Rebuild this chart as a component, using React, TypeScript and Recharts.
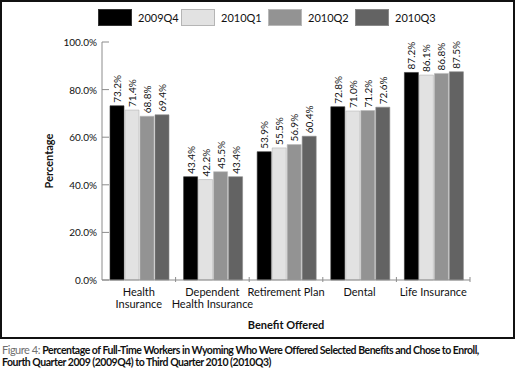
import React from "react";
import { BarChart, Bar, XAxis, YAxis, LabelList } from "recharts";

const categories = [
  "Health Insurance",
  "Dependent Health Insurance",
  "Retirement Plan",
  "Dental",
  "Life Insurance",
];
const categoryLines = [
  ["Health", "Insurance"],
  ["Dependent", "Health Insurance"],
  ["Retirement Plan"],
  ["Dental"],
  ["Life Insurance"],
];
const q2009Q4 = [73.2, 43.4, 53.9, 72.8, 87.2];
const q2010Q1 = [71.4, 42.2, 55.5, 71.0, 86.1];
const q2010Q2 = [68.8, 45.5, 56.9, 71.2, 86.8];
const q2010Q3 = [69.4, 43.4, 60.4, 72.6, 87.5];
const yTicks = [0, 20, 40, 60, 80, 100];

const series = [
  { key: "2009Q4", values: q2009Q4, fill: "#000000", stroke: "#333333" },
  { key: "2010Q1", values: q2010Q1, fill: "#e2e2e2", stroke: "#b5b5b5" },
  { key: "2010Q2", values: q2010Q2, fill: "#939393", stroke: "#b8b8b8" },
  { key: "2010Q3", values: q2010Q3, fill: "#636363", stroke: "#8a8a8a" },
];

const data = categories.map((name, i) => {
  const row: Record<string, any> = { name, idx: i };
  series.forEach((s) => (row[s.key] = s.values[i]));
  return row;
});

const FONT = "Lato, 'Open Sans', sans-serif";
const AXIS = "#8c8c8c";

const YTick = (props: any) => {
  const { x, y, payload } = props;
  return (
    <g>
      <line x1={x + 5} x2={x + 12} y1={y} y2={y} stroke={AXIS} strokeWidth={1} />
      <text x={x} y={y} textAnchor="end" dominantBaseline="central" fontSize={10} fill="#111" fontFamily={FONT}>
        {payload.value.toFixed(1)}%
      </text>
    </g>
  );
};

const XTick = (props: any) => {
  const { x, y, payload, index } = props;
  const half = payload.offset || 36.8;
  const lines = categoryLines[index] || [payload.value];
  return (
    <g>
      <line x1={x + half} x2={x + half} y1={y} y2={y - 5} stroke={AXIS} strokeWidth={1} />
      <text x={x} y={y + 14} textAnchor="middle" fontSize={11} fill="#111" fontFamily={FONT}>
        {lines.map((l: string, i: number) => (
          <tspan key={i} x={x} dy={i === 0 ? 0 : 12}>
            {l}
          </tspan>
        ))}
      </text>
    </g>
  );
};

const BarLabel = (props: any) => {
  const { x, y, width, value } = props;
  const cx = x + width / 2;
  const ty = y - 3;
  return (
    <text
      x={cx}
      y={ty}
      transform={`rotate(-90 ${cx} ${ty})`}
      textAnchor="start"
      dominantBaseline="central"
      fontSize={10}
      fill="#111"
      fontFamily={FONT}
    >
      {value.toFixed(1)}%
    </text>
  );
};

export default function App() {
  return (
    <div style={{ position: "relative", width: 516, height: 370, background: "#fff", fontFamily: FONT }}>
      <style>{"body{margin:0}"}</style>
      <div
        style={{
          position: "absolute",
          left: 0,
          top: 0,
          width: 515,
          height: 339,
          border: "2px solid #111",
          boxSizing: "border-box",
        }}
      />
      <div style={{ position: "absolute", left: 98, top: 9, display: "flex", fontSize: 11, color: "#111" }}>
        {series.map((s, i) => (
          <div key={s.key} style={{ display: "flex", alignItems: "center", width: i === 0 ? 83 : 87 }}>
            <div
              style={{
                width: 34,
                height: 17,
                background: s.fill,
                border: `1px solid ${s.stroke}`,
                boxSizing: "border-box",
                marginRight: 6,
              }}
            />
            <span>{s.key}</span>
          </div>
        ))}
      </div>
      <div style={{ position: "absolute", left: 0, top: 0 }}>
        <BarChart
          width={516}
          height={339}
          data={data}
          margin={{ top: 42, right: 46, bottom: 0, left: 0 }}
          barCategoryGap={8}
          barGap={1}
        >
          <XAxis
            dataKey="name"
            height={59}
            stroke={AXIS}
            tickLine={false}
            tickSize={0}
            tick={<XTick />}
            interval={0}
            label={{
              value: "Benefit Offered",
              position: "insideBottom",
              offset: 10,
              style: { fontSize: 11, fontWeight: 700, fill: "#111", fontFamily: FONT },
            }}
          />
          <YAxis
            width={102}
            domain={[0, 100]}
            ticks={yTicks}
            stroke={AXIS}
            tickLine={false}
            tickSize={0}
            tickMargin={5}
            tick={<YTick />}
            label={{
              value: "Percentage",
              angle: -90,
              position: "insideLeft",
              offset: 49,
              style: { textAnchor: "middle", fontSize: 11, fontWeight: 700, fill: "#111", fontFamily: FONT },
            }}
          />
          {series.map((s) => (
            <Bar key={s.key} dataKey={s.key} fill={s.fill} stroke={s.stroke} strokeWidth={0.6} isAnimationActive={false}>
              <LabelList dataKey={s.key} content={<BarLabel />} />
            </Bar>
          ))}
        </BarChart>
      </div>
      <div
        style={{
          position: "absolute",
          left: 2,
          top: 344,
          fontSize: 10.5,
          lineHeight: "12px",
          fontWeight: 700,
          color: "#111",
          letterSpacing: -0.48,
          whiteSpace: "nowrap",
        }}
      >
        <span style={{ color: "#6f6f6f", fontWeight: 400, fontSize: 11 }}>Figure 4: </span>
        Percentage of Full-Time Workers in Wyoming Who Were Offered Selected Benefits and Chose to Enroll,
        <br />
        Fourth Quarter 2009 (2009Q4) to Third Quarter 2010 (2010Q3)
      </div>
    </div>
  );
}
